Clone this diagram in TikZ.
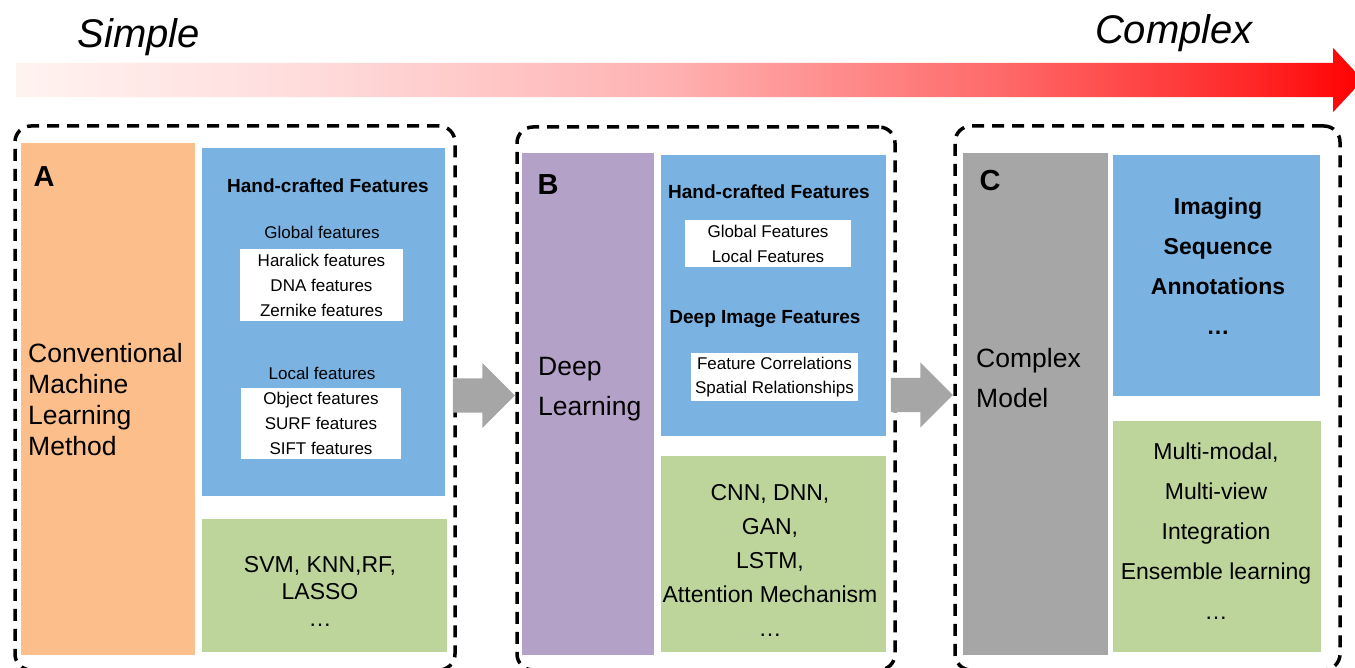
\documentclass[tikz,border=0pt]{standalone}
\usepackage{fontspec}
\setmainfont{Liberation Sans}
\usetikzlibrary{shapes.arrows}
\definecolor{corange}{HTML}{FCBE8B}
\definecolor{cpurple}{HTML}{B4A1C8}
\definecolor{cgrey}{HTML}{A6A6A6}
\definecolor{cblue}{HTML}{7AB2E2}
\definecolor{cgreen}{HTML}{BDD59B}
\definecolor{cpale}{HTML}{FFF3F0}
\pgfdeclarehorizontalshading{simplecomplex}{100bp}{color(0bp)=(cpale); color(25bp)=(cpale); color(36bp)=(red!14); color(49bp)=(red!30); color(62bp)=(red!60); color(71bp)=(red!85); color(75bp)=(red); color(100bp)=(red)}
\tikzset{
  panel/.style={draw, line width=3.5pt, dash pattern=on 12pt off 8pt, rounded corners=16pt, inner sep=0pt},
  box/.style={fill=#1, inner sep=0pt},
  box/.default=white,
  flow/.style={single arrow, fill=cgrey, inner xsep=8pt, inner ysep=17pt, single arrow head extend=15.5pt, minimum height=62pt, anchor=tip, yshift=3pt},
  title/.style={font=\fontsize{40}{48}\selectfont\itshape, inner sep=0pt},
  tag/.style={font=\fontsize{29}{34}\selectfont\bfseries, inner sep=0pt},
  method/.style={font=\fontsize{26.5}{#1}\selectfont, align=left, anchor=west, inner sep=0pt},
  head/.style={font=\fontsize{19}{23}\selectfont\bfseries, inner sep=0pt},
  feat/.style={font=\fontsize{17}{#1}\selectfont, align=center},
  feat/.default=25pt,
  algo/.style={font=\fontsize{23}{#1}\selectfont, align=center, inner sep=0pt},
  datatxt/.style={font=\fontsize{23}{40}\selectfont\bfseries, align=center, inner sep=0pt},
}
\begin{document}
\begin{tikzpicture}[x=1pt, y=-1pt]
  \useasboundingbox (0,0) rectangle (1355,668);
  \node[single arrow, shade, shading=simplecomplex, inner xsep=2pt, inner ysep=17pt, single arrow head extend=15pt, single arrow tip angle=94, minimum height=1347pt] (scalebar) at (681.5,80) {};
  \node[title] (simple) at (139,37) {Simple};
  \node[title] (complex) at (1174,33) {Complex};

  \node[panel, minimum width=440pt, minimum height=544pt] (panA) at (235,398) {};
  \node[box=corange, minimum width=174pt, minimum height=512pt] (mlA) at (108,399) {};
  \node[tag] (tagA) at (44,177) {A};
  \node[method=31pt] (nameA) at (28,400) {Conventional\\Machine\\Learning\\Method};
  \node[box=cblue, minimum width=243pt, minimum height=348pt] (featA) at (323.5,322) {};
  \node[head] (hcA) at (328,186) {Hand-crafted Features};
  \node[feat, inner sep=0pt] (globA) at (322,232) {Global features};
  \node[box, feat, minimum width=163pt, minimum height=72pt] (globlistA) at (321.5,285) {Haralick features\\DNA features\\Zernike features};
  \node[feat, inner sep=0pt] (locA) at (322,373) {Local features};
  \node[box, feat, minimum width=160pt, minimum height=71pt] (loclistA) at (321,423) {Object features\\SURF features\\SIFT features};
  \node[box=cgreen, minimum width=245pt, minimum height=133pt] (algA) at (324.5,585.5) {};
  \node[algo=27pt] (algtxtA) at (320,591) {SVM, KNN,RF,\\LASSO\\\dots};

  \node[panel, minimum width=378pt, minimum height=543pt] (panB) at (706,398.5) {};
  \node[box=cpurple, minimum width=132pt, minimum height=502pt] (mlB) at (588,404) {};
  \node[tag] (tagB) at (548,185) {B};
  \node[method=40pt] (nameB) at (538,389) {Deep\\Learning};
  \node[box=cblue, minimum width=225pt, minimum height=281pt] (featB) at (773.5,295.5) {};
  \node[head] (hcB) at (769,192) {Hand-crafted Features};
  \node[box, feat, minimum width=166pt, minimum height=47pt] (hclistB) at (768,244) {Global Features\\Local Features};
  \node[head] (deepB) at (765,319) {Deep Image Features};
  \node[box, feat=24pt, minimum width=167pt, minimum height=48pt] (deeplistB) at (774.5,377) {Feature Correlations\\Spatial Relationships};
  \node[box=cgreen, minimum width=225pt, minimum height=196pt] (algB) at (773.5,554) {};
  \node[algo=34pt] (algtxtB) at (770,560) {CNN, DNN,\\GAN,\\LSTM,\\Attention Mechanism\\\dots};

  \node[panel, minimum width=385pt, minimum height=544pt] (panC) at (1147.5,398) {};
  \node[box=cgrey, minimum width=145pt, minimum height=502pt] (mlC) at (1035.5,404) {};
  \node[tag] (tagC) at (990,181) {C};
  \node[method=40pt] (nameC) at (976,378) {Complex\\Model};
  \node[box=cblue, minimum width=207pt, minimum height=241pt] (dataC) at (1216.5,275.5) {};
  \node[datatxt] (datatxtC) at (1218,266) {Imaging\\Sequence\\Annotations\\\dots};
  \node[box=cgreen, minimum width=208pt, minimum height=231pt] (algC) at (1217,536.5) {};
  \node[algo=40pt] (algtxtC) at (1216,531) {Multi-modal,\\Multi-view\\Integration\\Ensemble learning\\\dots};

  \path (panA.east) -- (panB.west) node[pos=1, flow] (ab) {};
  \path (panB.east) -- (panC.west) node[pos=1, flow] (bc) {};
\end{tikzpicture}
\end{document}
